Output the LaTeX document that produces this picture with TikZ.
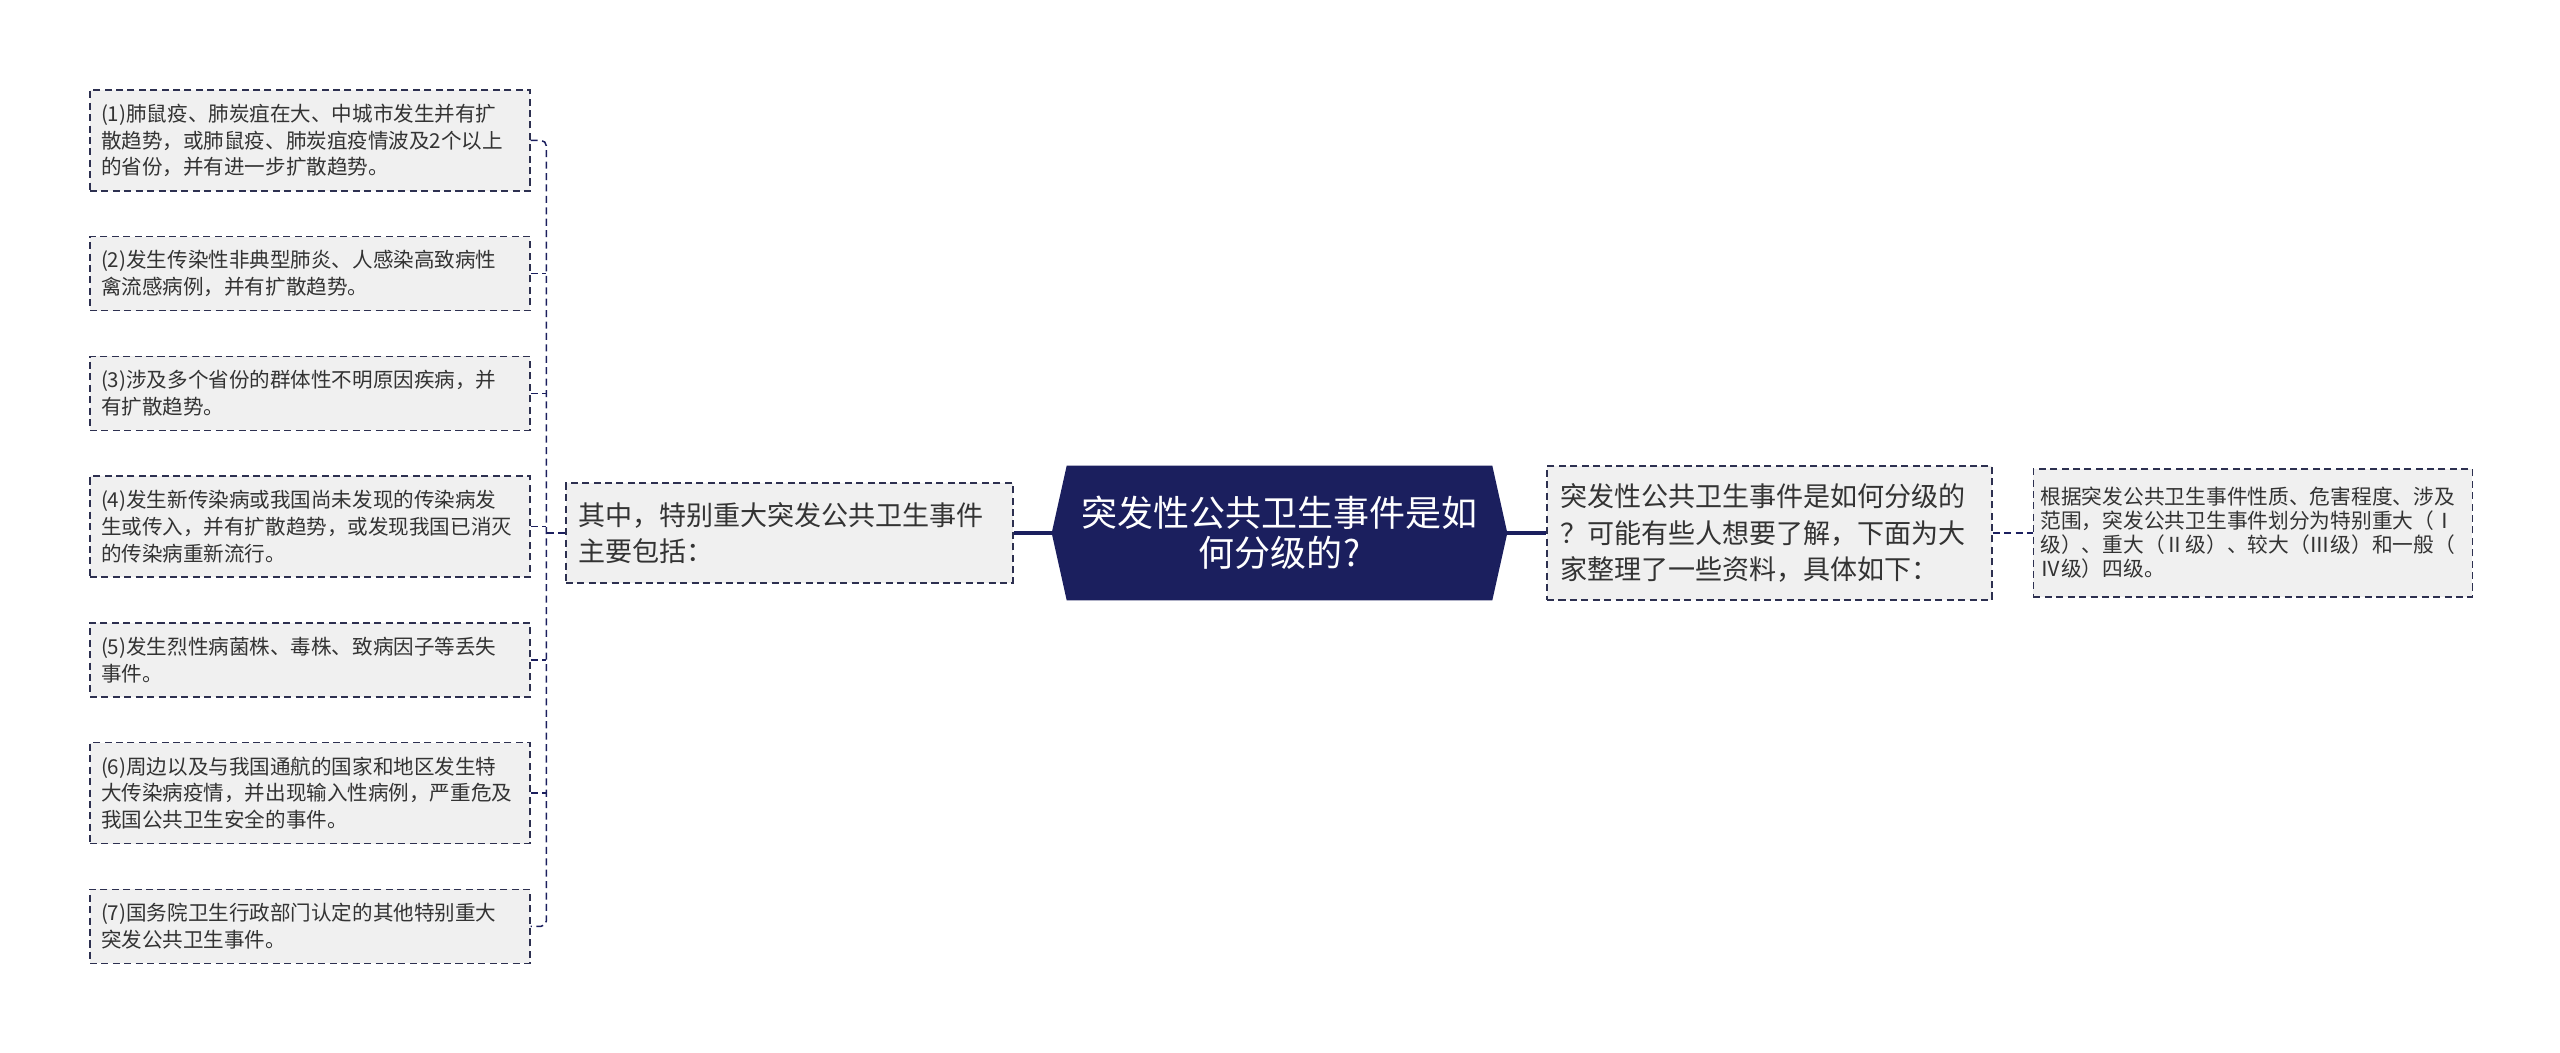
\documentclass[tikz,border=0pt]{standalone}
\usepackage{fontspec}
\newfontfamily\cjk{Noto Sans CJK SC}
\usetikzlibrary{positioning,backgrounds}

\definecolor{navyc}{RGB}{27,31,94}
\definecolor{boxgray}{RGB}{240,240,240}
\definecolor{edgec}{RGB}{45,48,80}
\definecolor{textc}{RGB}{51,51,51}

\tikzstyle{leaf} = [draw=edgec, fill=boxgray, rectangle, dash pattern=on 4pt off 2.5pt,
    line width=0.85pt, inner xsep=0.22cm, inner ysep=0pt, text width=8.36cm,
    align=left, minimum height=1.48cm, text=textc,
    font=\cjk\fontsize{11.7pt}{15.3pt}\selectfont]
\tikzstyle{tall} = [minimum height=2.02cm]
\tikzstyle{mid} = [leaf, font=\cjk\fontsize{15.4pt}{20.5pt}\selectfont,
    inner xsep=0.24cm, text width=8.46cm, minimum height=2cm]
\tikzstyle{topic} = [rectangle, inner sep=0pt, minimum width=9.1cm,
    minimum height=2.68cm, align=center, text=white,
    font=\cjk\fontsize{20.5pt}{22.8pt}\selectfont]
\tikzstyle{mainline} = [draw=navyc, line width=1.9pt]
\tikzstyle{subline} = [draw=navyc, line width=0.85pt, dash pattern=on 4pt off 2.5pt]

\begin{document}
\begin{tikzpicture}[x=0.02cm, y=-0.02cm]
    \useasboundingbox (0,0) rectangle (2560,1053);
    \node [topic] (title) at (1279.5,533) {突发性公共卫生事件是如\\何分级的?};
    \node [mid, left=0.76cm of title] (incl) {其中，特别重大突发公共卫生事件\\主要包括：};
    \node [mid, right=0.78cm of title, inner xsep=0.26cm, text width=8.38cm,
        minimum height=2.68cm, font=\cjk\fontsize{15.4pt}{21pt}\selectfont] (intro)
        {突发性公共卫生事件是如何分级的\\？可能有些人想要了解，下面为大\\家整理了一些资料，具体如下：};
    \node [leaf, right=0.8cm of intro, inner xsep=0.14cm, text width=8.5cm,
        minimum height=2.56cm, font=\cjk\fontsize{11.8pt}{13.7pt}\selectfont] (grade)
        {根据突发公共卫生事件性质、危害程度、涉及\\范围，突发公共卫生事件划分为特别重大（Ⅰ\\级）、重大（Ⅱ级）、较大（Ⅲ级）和一般（\\Ⅳ级）四级。};
    \node [leaf, tall] (b1) at (310,140.5) {(1)肺鼠疫、肺炭疽在大、中城市发生并有扩\\散趋势，或肺鼠疫、肺炭疽疫情波及2个以上\\的省份，并有进一步扩散趋势。};
    \node [leaf, below=0.885cm of b1] (b2) {(2)发生传染性非典型肺炎、人感染高致病性\\禽流感病例，并有扩散趋势。};
    \node [leaf, below=0.885cm of b2] (b3) {(3)涉及多个省份的群体性不明原因疾病，并\\有扩散趋势。};
    \node [leaf, tall, below=0.885cm of b3] (b4) {(4)发生新传染病或我国尚未发现的传染病发\\生或传入，并有扩散趋势，或发现我国已消灭\\的传染病重新流行。};
    \node [leaf, below=0.885cm of b4] (b5) {(5)发生烈性病菌株、毒株、致病因子等丢失\\事件。};
    \node [leaf, tall, below=0.885cm of b5] (b6) {(6)周边以及与我国通航的国家和地区发生特\\大传染病疫情，并出现输入性病例，严重危及\\我国公共卫生安全的事件。};
    \node [leaf, below=0.885cm of b6] (b7) {(7)国务院卫生行政部门认定的其他特别重大\\突发公共卫生事件。};
    \coordinate [left=0.38cm of incl.west] (hub);

    \begin{scope}[on background layer]
        \fill [navyc] (title.west) -- ([xshift=0.3cm]title.north west)
            -- ([xshift=-0.3cm]title.north east) -- (title.east)
            -- ([xshift=-0.3cm]title.south east) -- ([xshift=0.3cm]title.south west) -- cycle;
    \end{scope}

    \draw [mainline] (incl) -- (title);
    \draw [mainline] (title) -- (intro);
    \draw [subline] (intro) -- (grade);
    \draw [subline] (incl) -- (hub);
    \draw [subline, rounded corners=3pt] (b1.east) -| (hub) |- (b7.east);
    \draw [subline] (b2.east) -- (b2.east -| hub);
    \draw [subline] (b3.east) -- (b3.east -| hub);
    \draw [subline] (b4.east) -- (b4.east -| hub);
    \draw [subline] (b5.east) -- (b5.east -| hub);
    \draw [subline] (b6.east) -- (b6.east -| hub);
\end{tikzpicture}
\end{document}
